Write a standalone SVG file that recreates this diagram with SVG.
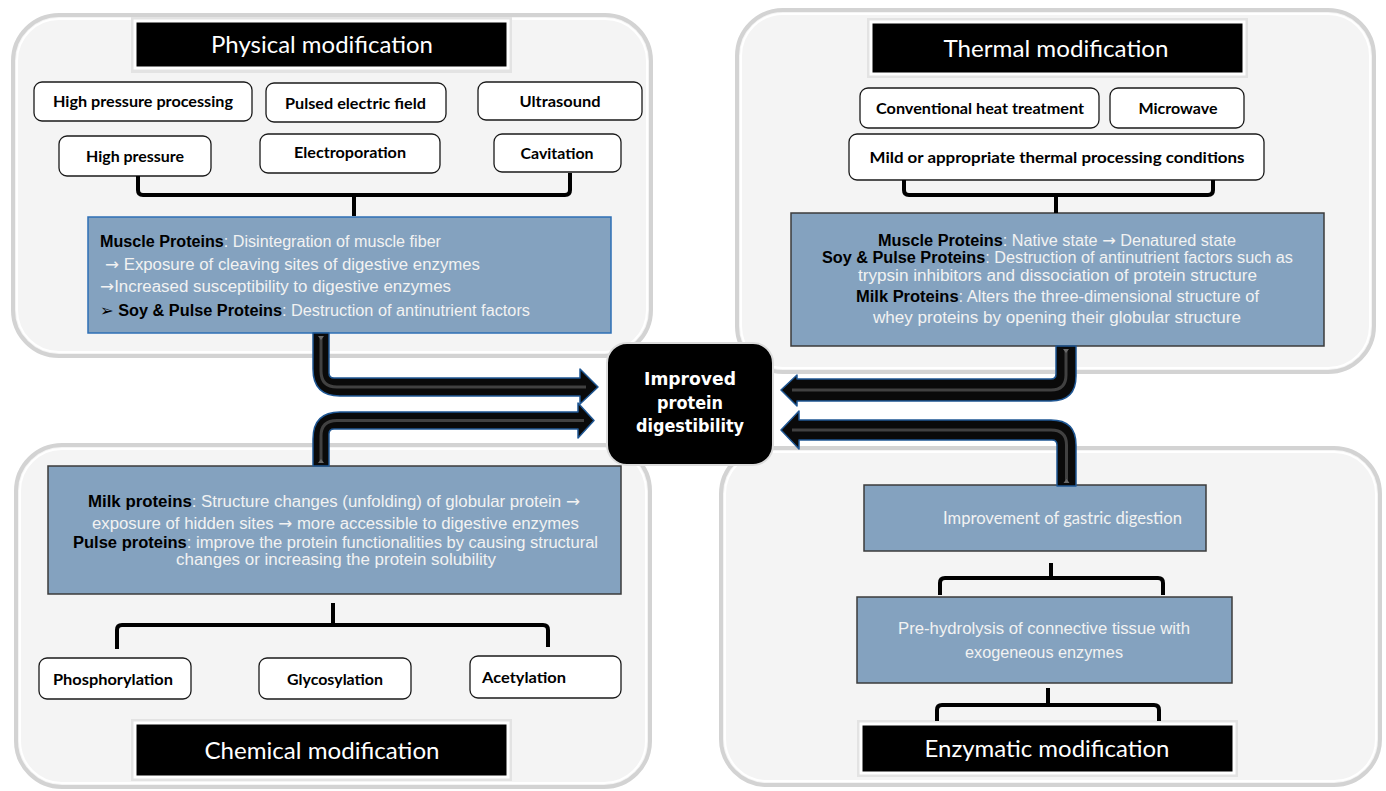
<svg xmlns="http://www.w3.org/2000/svg" width="1386" height="791" viewBox="0 0 1386 791">
<defs>
<style>
.panel{fill:#f4f4f4;stroke:#d3d3d3;stroke-width:4}
.panelin{fill:none;stroke:#ffffff;stroke-width:2}
.tshadow{fill:#e3e3e3}
.title{fill:#000;stroke:#ffffff;stroke-width:3}
.ttext{font-family:Lato,"Open Sans",sans-serif;font-size:23px;fill:#fff;text-anchor:middle}
.wbox{fill:#fff;stroke:#1a1a1a;stroke-width:1.3}
.wtext{font-family:Lato,"Open Sans",sans-serif;font-weight:bold;font-size:15px;fill:#000;text-anchor:middle}
.bbox{fill:#84a2bf;stroke:#3b3b3b;stroke-width:1.5}
.bboxb{fill:#84a2bf;stroke:#2e6fb5;stroke-width:1.5}
.btext{font-family:"Liberation Sans",Arial,sans-serif;font-size:16px;fill:#f2f2f2}
.ctext{font-family:"Liberation Sans",Arial,sans-serif;font-size:16px;fill:#f2f2f2;text-anchor:middle}
.ltext{font-family:Lato,"Open Sans",sans-serif;font-size:17px;fill:#f2f2f2}
.lb{font-weight:bold;fill:#000}
.ar{font-family:"DejaVu Sans",sans-serif;font-size:16px}
.br{fill:none;stroke:#000;stroke-width:4;stroke-linejoin:round}
.arrow{fill:#0a0a0a;stroke:#1f5794;stroke-width:1.5;stroke-linejoin:round}
.hl{fill:none;stroke:#4f4f4f;stroke-width:3;opacity:.8}
.tri{fill:#6a6a6a}
.center{fill:#000;stroke:#dcdcdc;stroke-width:2}
.centertext{font-family:"DejaVu Sans",Verdana,sans-serif;font-weight:bold;font-size:17px;fill:#fff;text-anchor:middle}
</style>
</defs>
<rect width="1386" height="791" fill="#ffffff"/>

<!-- Panels -->
<g id="panel-physical">
<rect class="panel" x="13" y="15" width="638" height="341" rx="46"/>
<rect class="panelin" x="17" y="19" width="630" height="333" rx="42"/>
</g>
<g id="panel-thermal">
<rect class="panel" x="737" y="10" width="637" height="362" rx="46"/>
<rect class="panelin" x="741" y="14" width="629" height="354" rx="42"/>
</g>
<g id="panel-chemical">
<rect class="panel" x="16" y="445" width="634" height="342" rx="46"/>
<rect class="panelin" x="20" y="449" width="626" height="334" rx="42"/>
</g>
<g id="panel-enzymatic">
<rect class="panel" x="721" y="448" width="659" height="337" rx="46"/>
<rect class="panelin" x="725" y="452" width="651" height="329" rx="42"/>
</g>

<!-- Physical modification -->
<g id="title-physical">
<rect class="tshadow" x="131" y="17" width="381" height="56"/>
<rect class="title" x="135" y="21" width="373" height="47"/>
<text class="ttext" x="322" y="53" textLength="222" lengthAdjust="spacingAndGlyphs">Physical modification</text>
</g>
<g id="n-hpp"><rect class="wbox" x="34" y="82" width="218" height="39" rx="8"/><text class="wtext" x="143" y="107" textLength="180" lengthAdjust="spacingAndGlyphs">High pressure processing</text></g>
<g id="n-pef"><rect class="wbox" x="266" y="83" width="180" height="39" rx="8"/><text class="wtext" x="355.5" y="109" textLength="141" lengthAdjust="spacingAndGlyphs">Pulsed electric field</text></g>
<g id="n-ultrasound"><rect class="wbox" x="478" y="82" width="164" height="38" rx="8"/><text class="wtext" x="560" y="107" textLength="81" lengthAdjust="spacingAndGlyphs">Ultrasound</text></g>
<g id="n-hp"><rect class="wbox" x="59" y="136" width="152" height="40" rx="8"/><text class="wtext" x="135" y="162" textLength="98" lengthAdjust="spacingAndGlyphs">High pressure</text></g>
<g id="n-electro"><rect class="wbox" x="260" y="134" width="180" height="39" rx="8"/><text class="wtext" x="350" y="158" textLength="112" lengthAdjust="spacingAndGlyphs">Electroporation</text></g>
<g id="n-cavitation"><rect class="wbox" x="494" y="134" width="127" height="38" rx="8"/><text class="wtext" x="557" y="159" textLength="73" lengthAdjust="spacingAndGlyphs">Cavitation</text></g>
<g id="n-physical-effects">
<rect class="bboxb" x="88" y="217" width="523" height="116"/>
<text class="btext" x="100" y="247" textLength="341" lengthAdjust="spacingAndGlyphs"><tspan class="lb">Muscle Proteins</tspan>: Disintegration of muscle fiber</text>
<text class="btext" x="105" y="270" textLength="375" lengthAdjust="spacingAndGlyphs"><tspan class="ar">→</tspan> Exposure of cleaving sites of digestive enzymes</text>
<text class="btext" x="100" y="292" textLength="351" lengthAdjust="spacingAndGlyphs"><tspan class="ar">→</tspan>Increased susceptibility to digestive enzymes</text>
<text class="btext" x="100" y="316" textLength="430" lengthAdjust="spacingAndGlyphs"><tspan class="ar" fill="#000">➢</tspan><tspan fill="#000"> </tspan><tspan class="lb">Soy &amp; Pulse Proteins</tspan>: Destruction of antinutrient factors</text>
</g>

<!-- Thermal modification -->
<g id="title-thermal">
<rect class="tshadow" x="867" y="18" width="381" height="60"/>
<rect class="title" x="871" y="22" width="373" height="52"/>
<text class="ttext" x="1056" y="57" textLength="225" lengthAdjust="spacingAndGlyphs">Thermal modification</text>
</g>
<g id="n-conv"><rect class="wbox" x="860" y="88" width="239" height="40" rx="8"/><text class="wtext" x="980" y="114" textLength="208" lengthAdjust="spacingAndGlyphs">Conventional heat treatment</text></g>
<g id="n-microwave"><rect class="wbox" x="1110" y="88" width="134" height="40" rx="8"/><text class="wtext" x="1178" y="114" textLength="79" lengthAdjust="spacingAndGlyphs">Microwave</text></g>
<g id="n-mild"><rect class="wbox" x="849" y="134" width="415" height="46" rx="8"/><text class="wtext" x="1057" y="163" textLength="375" lengthAdjust="spacingAndGlyphs">Mild or appropriate thermal processing conditions</text></g>
<g id="n-thermal-effects">
<rect class="bbox" x="791" y="213" width="533" height="133"/>
<text class="ctext" x="1057" y="246" textLength="358" lengthAdjust="spacingAndGlyphs"><tspan class="lb">Muscle Proteins</tspan>: Native state <tspan class="ar">→</tspan> Denatured state</text>
<text class="ctext" x="1057.5" y="263" textLength="471" lengthAdjust="spacingAndGlyphs"><tspan class="lb">Soy &amp; Pulse Proteins</tspan>: Destruction of antinutrient factors such as</text>
<text class="ctext" x="1057.5" y="281" textLength="399" lengthAdjust="spacingAndGlyphs">trypsin inhibitors and dissociation of protein structure</text>
<text class="ctext" x="1057.5" y="302" textLength="403" lengthAdjust="spacingAndGlyphs"><tspan class="lb">Milk Proteins</tspan>: Alters the three-dimensional structure of</text>
<text class="ctext" x="1057" y="323" textLength="368" lengthAdjust="spacingAndGlyphs">whey proteins by opening their globular structure</text>
</g>

<!-- Chemical modification -->
<g id="n-chemical-effects">
<rect class="bbox" x="48" y="466" width="573" height="128"/>
<text class="ctext" x="334" y="507" textLength="492" lengthAdjust="spacingAndGlyphs"><tspan class="lb">Milk proteins</tspan>:  Structure changes (unfolding) of globular protein <tspan class="ar">→</tspan></text>
<text class="ctext" x="335.5" y="529" textLength="487" lengthAdjust="spacingAndGlyphs">exposure of hidden sites <tspan class="ar">→</tspan> more accessible to digestive enzymes</text>
<text class="ctext" x="335.5" y="548" textLength="525" lengthAdjust="spacingAndGlyphs"><tspan class="lb">Pulse proteins</tspan>: improve the protein functionalities by causing structural</text>
<text class="ctext" x="336" y="565" textLength="320" lengthAdjust="spacingAndGlyphs">changes or increasing the protein solubility</text>
</g>
<g id="n-phos"><rect class="wbox" x="39" y="658" width="152" height="41" rx="8"/><text class="wtext" x="113" y="685" textLength="120" lengthAdjust="spacingAndGlyphs">Phosphorylation</text></g>
<g id="n-glyc"><rect class="wbox" x="259" y="658" width="152" height="41" rx="8"/><text class="wtext" x="335" y="685" textLength="96" lengthAdjust="spacingAndGlyphs">Glycosylation</text></g>
<g id="n-acet"><rect class="wbox" x="470" y="656" width="151" height="42" rx="8"/><text class="wtext" x="524" y="683" textLength="84" lengthAdjust="spacingAndGlyphs">Acetylation</text></g>
<g id="title-chemical">
<rect class="tshadow" x="131" y="719" width="381" height="62"/>
<rect class="title" x="135" y="723" width="373" height="54"/>
<text class="ttext" x="322" y="759" textLength="235" lengthAdjust="spacingAndGlyphs">Chemical modification</text>
</g>

<!-- Enzymatic modification -->
<g id="n-gastric">
<rect class="bbox" x="864" y="485" width="342" height="66"/>
<text class="ltext" x="943" y="524" textLength="239" lengthAdjust="spacingAndGlyphs">Improvement of gastric digestion</text>
</g>
<g id="n-prehydro">
<rect class="bbox" x="857" y="597" width="375" height="86"/>
<text class="ctext" x="1044" y="634" textLength="292" lengthAdjust="spacingAndGlyphs">Pre-hydrolysis of connective tissue with</text>
<text class="ctext" x="1044" y="658" textLength="158" lengthAdjust="spacingAndGlyphs">exogeneous enzymes</text>
</g>
<g id="title-enzymatic">
<rect class="tshadow" x="857" y="720" width="381" height="57"/>
<rect class="title" x="861" y="724" width="373" height="49"/>
<text class="ttext" x="1047" y="757" textLength="245" lengthAdjust="spacingAndGlyphs">Enzymatic modification</text>
</g>

<!-- Connectors -->
<g id="connectors">
<path class="br" d="M138,176 V190 Q138,195 143,195 H565 Q570,195 570,190 V173"/>
<path class="br" d="M354,195 V216"/>
<path class="br" d="M904,180 V190 Q904,195 909,195 H1208 Q1213,195 1213,190 V180"/>
<path class="br" d="M1056,195 V213"/>
<path class="br" d="M117,649 V630 Q117,625 122,625 H543 Q548,625 548,630 V647"/>
<path class="br" d="M333,625 V603"/>
<path class="br" d="M940,595 V583 Q940,578 945,578 H1158 Q1163,578 1163,583 V595"/>
<path class="br" d="M1051,578 V563"/>
<path class="br" d="M937,721 V710 Q937,705 942,705 H1154 Q1159,705 1159,710 V721"/>
<path class="br" d="M1048,705 V688"/>

<path class="arrow" d="M313,333 V369 Q313,396 340,396 H580 V404 L598,387 L580,369 V378 H334 Q329,378 329,373 V333 Z"/>
<path class="hl" d="M321,337 V371 Q321,387 337,387 H586"/>
<path class="tri" d="M318,336 H324 L321,340 Z"/>

<path class="arrow" d="M313,466 V439 Q313,412 340,412 H578 V403 L594,420.5 L578,438 V429 H334 Q329,429 329,434 V466 Z"/>
<path class="hl" d="M321,463 V436 Q321,420.5 337,420.5 H584"/>
<path class="tri" d="M318,463 H324 L321,459 Z"/>

<path class="arrow" d="M1076,346 V376 Q1076,401 1051,401 H797 V406 L781,390 L797,375 V379 H1051 Q1056,379 1056,374 V346 Z"/>
<path class="hl" d="M1066,349 V375 Q1066,390 1051,390 H792"/>
<path class="tri" d="M1063,349 H1069 L1066,353 Z"/>

<path class="arrow" d="M1076,486 V445 Q1076,420 1051,420 H799 V411 L781,430 L799,449 V440 H1052 Q1057,440 1057,445 V486 Z"/>
<path class="hl" d="M1066.5,483 V445 Q1066.5,430 1051,430 H792"/>
<path class="tri" d="M1063.5,483 H1069.5 L1066.5,479 Z"/>
</g>

<!-- Center -->
<g id="n-improved">
<rect class="center" x="607" y="343" width="166" height="122" rx="20"/>
<text class="centertext" x="690" y="385" textLength="92" lengthAdjust="spacingAndGlyphs">Improved</text>
<text class="centertext" x="690" y="409" textLength="66" lengthAdjust="spacingAndGlyphs">protein</text>
<text class="centertext" x="690" y="432" textLength="108" lengthAdjust="spacingAndGlyphs">digestibility</text>
</g>
</svg>
